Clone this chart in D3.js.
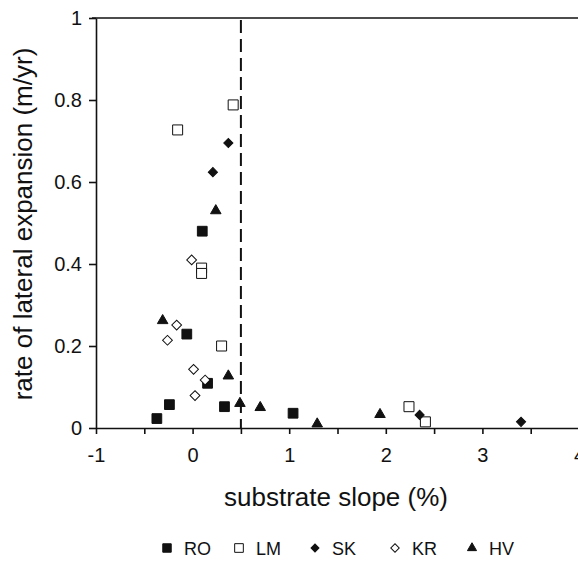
<!DOCTYPE html>
<html>
<head>
<meta charset="utf-8">
<script src="https://cdn.jsdelivr.net/npm/d3@7"></script>
<style>
  body { margin: 0; background: #fff; }
  svg text { font-family: "Liberation Sans", Arial, sans-serif; fill: #111; }
  .axis path, .axis line { stroke: #111; stroke-width: 1.6; }
  .axis text { font-size: 20px; }
</style>
</head>
<body>
<svg id="MyGraph" width="578" height="562"></svg>
<script>
// data: [slope %, expansion m/yr]
var RO = [[0.10, 0.48], [-0.06, 0.229], [0.155, 0.109], [-0.24, 0.057], [0.33, 0.052], [-0.37, 0.023], [1.04, 0.036]];
var LM = [[0.42, 0.788], [-0.155, 0.727], [0.093, 0.39], [0.093, 0.377], [0.30, 0.20], [2.24, 0.052], [2.41, 0.015]];
var SK = [[0.37, 0.695], [0.21, 0.624], [2.35, 0.032], [3.40, 0.015]];
var KR = [[-0.01, 0.41], [-0.165, 0.251], [-0.26, 0.214], [0.01, 0.143], [0.13, 0.117], [0.025, 0.079]];
var HV = [[0.24, 0.53], [-0.31, 0.262], [0.37, 0.127], [0.49, 0.06], [0.70, 0.05], [1.29, 0.01], [1.94, 0.033]];

var seriesNames = ["RO", "LM", "SK", "KR", "HV"];
var xTicks = [-1, 0, 1, 2, 3, 4];
var yTicks = [0, 0.2, 0.4, 0.6, 0.8, 1];
var threshold = 0.5;

var svg = d3.select("#MyGraph");

var x_scale = d3.scaleLinear().domain([-1, 4]).range([96, 579]);
var y_scale = d3.scaleLinear().domain([0, 1]).range([428, 18]);

// marker styles per series (diamond = square turned 45 degrees)
var marks = {
  RO: {shape: d3.symbolSquare, size: 95, fill: "#111", rot: 0},
  LM: {shape: d3.symbolSquare, size: 100, fill: "#fff", rot: 0},
  SK: {shape: d3.symbolSquare, size: 42, fill: "#111", rot: 45},
  KR: {shape: d3.symbolSquare, size: 48, fill: "#fff", rot: 45},
  HV: {shape: d3.symbolTriangle, size: 48, fill: "#111", rot: 0}
};
var dataBy = {RO: RO, LM: LM, SK: SK, KR: KR, HV: HV};

// top frame line
svg.append("line")
    .attr("x1", 92).attr("x2", 578)
    .attr("y1", y_scale(1)).attr("y2", y_scale(1))
    .attr("stroke", "#111").attr("stroke-width", 1.6);

// Ｘ軸
var xAxis = svg.append("g")
    .attr("class", "axis")
    .attr("transform", "translate(0," + y_scale(0) + ")")
    .call(d3.axisBottom(x_scale).tickValues(d3.range(-1, 4.01, 0.5))
        .tickSizeInner(6).tickSizeOuter(0)
        .tickFormat(function(d){ return xTicks.indexOf(d) >= 0 ? String(d) : ""; }));
xAxis.selectAll("text").attr("y", 20);

// Ｙ軸
svg.append("g")
    .attr("class", "axis")
    .attr("transform", "translate(" + x_scale(-1) + ",0)")
    .call(d3.axisLeft(y_scale).tickValues(yTicks).tickSizeInner(7).tickSizeOuter(0)
        .tickFormat(function(d){ return d === 0 || d === 1 ? String(d) : d3.format(".1f")(d); }))
    .selectAll("text").attr("x", -14);

// threshold dashed line
svg.append("line")
    .attr("x1", x_scale(threshold)).attr("x2", x_scale(threshold))
    .attr("y1", y_scale(0.995)).attr("y2", y_scale(0))
    .attr("stroke", "#111").attr("stroke-width", 2)
    .attr("stroke-dasharray", "13,6");

// points
seriesNames.forEach(function(name){
  var m = marks[name];
  svg.selectAll("path.pt-" + name)
      .data(dataBy[name])
      .enter()
      .append("path")
      .attr("class", "pt-" + name)
      .attr("d", d3.symbol().type(m.shape).size(m.size))
      .attr("transform", function(d){
        return "translate(" + x_scale(d[0]) + "," + y_scale(d[1]) + ") rotate(" + m.rot + ")";
      })
      .attr("fill", m.fill)
      .attr("stroke", "#111")
      .attr("stroke-width", 1);
});

// axis titles
svg.append("text")
    .attr("x", 336).attr("y", 506)
    .attr("text-anchor", "middle")
    .style("font-size", "26px")
    .text("substrate slope (%)");

svg.append("text")
    .attr("transform", "translate(32,224) rotate(-90)")
    .attr("text-anchor", "middle")
    .style("font-size", "26px")
    .text("rate of lateral expansion (m/yr)");

// legend
var legendX = [167, 239, 315, 395, 472];
var lg = svg.append("g").attr("transform", "translate(0,548)");
seriesNames.forEach(function(name, i){
  var m = marks[name];
  lg.append("path")
      .attr("d", d3.symbol().type(m.shape).size(m.size * 0.75))
      .attr("transform", "translate(" + legendX[i] + ",0) rotate(" + m.rot + ")")
      .attr("fill", m.fill).attr("stroke", "#111").attr("stroke-width", 1);
  lg.append("text")
      .attr("x", legendX[i] + 17).attr("y", 7)
      .style("font-size", "18px")
      .text(name);
});
</script>
</body>
</html>
